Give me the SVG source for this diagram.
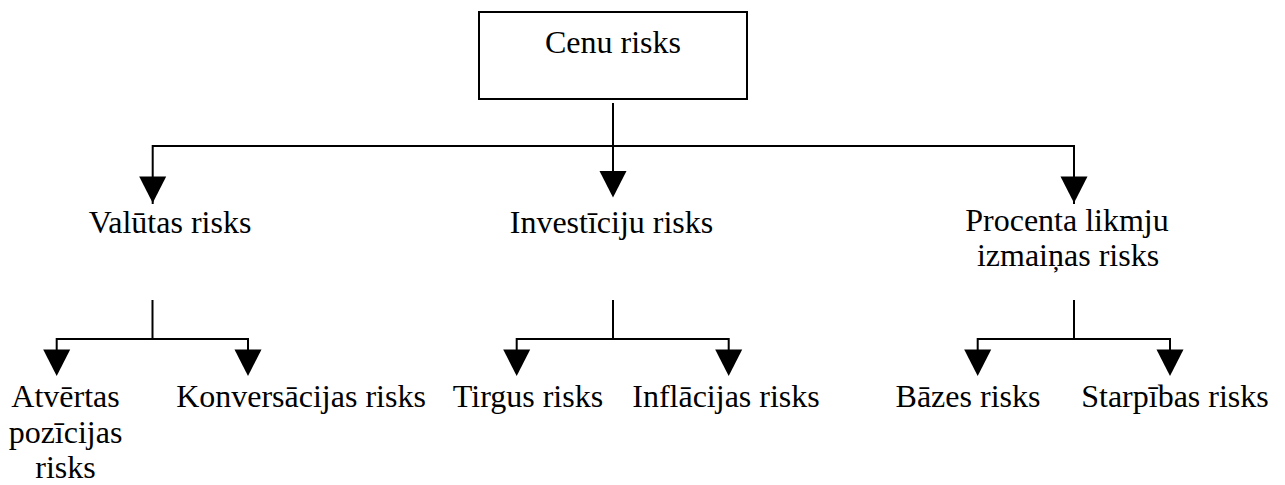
<svg xmlns="http://www.w3.org/2000/svg" width="1285" height="485" viewBox="0 0 1285 485">
<style>
text{font-family:"Liberation Serif","Times New Roman",serif;font-size:32px;fill:#000;text-anchor:middle}
.ln{stroke:#000;stroke-width:2;fill:none}
.ah{fill:#000;stroke:none}
</style>
<defs>
<path id="arr" d="M-13.5,0 L13.5,0 L0,26.5 Z"/>
</defs>
<rect width="1285" height="485" fill="#fff"/>
<g id="connectors">
<path class="ln" d="M613,103 V172"/>
<path class="ln" d="M152.7,204 V146 H1074 V204"/>
<use href="#arr" class="ah" x="152.7" y="176.5"/>
<use href="#arr" class="ah" x="613" y="171"/>
<use href="#arr" class="ah" x="1074" y="176.5"/>
<path class="ln" d="M152.5,300 V339"/>
<path class="ln" d="M56.7,352 V339 H248 V352"/>
<use href="#arr" class="ah" x="56.7" y="349.5"/>
<use href="#arr" class="ah" x="248" y="349.5"/>
<path class="ln" d="M613,300 V339"/>
<path class="ln" d="M516.7,352 V339 H728.7 V352"/>
<use href="#arr" class="ah" x="516.7" y="349.5"/>
<use href="#arr" class="ah" x="728.7" y="349.5"/>
<path class="ln" d="M1074,300 V339"/>
<path class="ln" d="M977.7,352 V339 H1170 V352"/>
<use href="#arr" class="ah" x="977.7" y="349.5"/>
<use href="#arr" class="ah" x="1170" y="349.5"/>
</g>
<g id="n-cenu">
<rect x="479" y="12" width="268" height="87" fill="#fff" stroke="#000" stroke-width="2"/>
<text x="613" y="53">Cenu risks</text>
</g>
<g id="n-valutas"><text x="170" y="233">Valūtas risks</text></g>
<g id="n-investiciju"><text x="611.5" y="233">Investīciju risks</text></g>
<g id="n-procenta"><text x="1067" y="231">Procenta likmju</text><text x="1068" y="266">izmaiņas risks</text></g>
<g id="n-atvertas"><text x="65.5" y="407">Atvērtas</text><text x="65.5" y="443">pozīcijas</text><text x="65.5" y="478">risks</text></g>
<g id="n-konversacijas"><text x="301" y="407">Konversācijas risks</text></g>
<g id="n-tirgus"><text x="528" y="407">Tirgus risks</text></g>
<g id="n-inflacijas"><text x="726" y="407">Inflācijas risks</text></g>
<g id="n-bazes"><text x="968" y="407">Bāzes risks</text></g>
<g id="n-starpibas"><text x="1175" y="407">Starpības risks</text></g>
</svg>
